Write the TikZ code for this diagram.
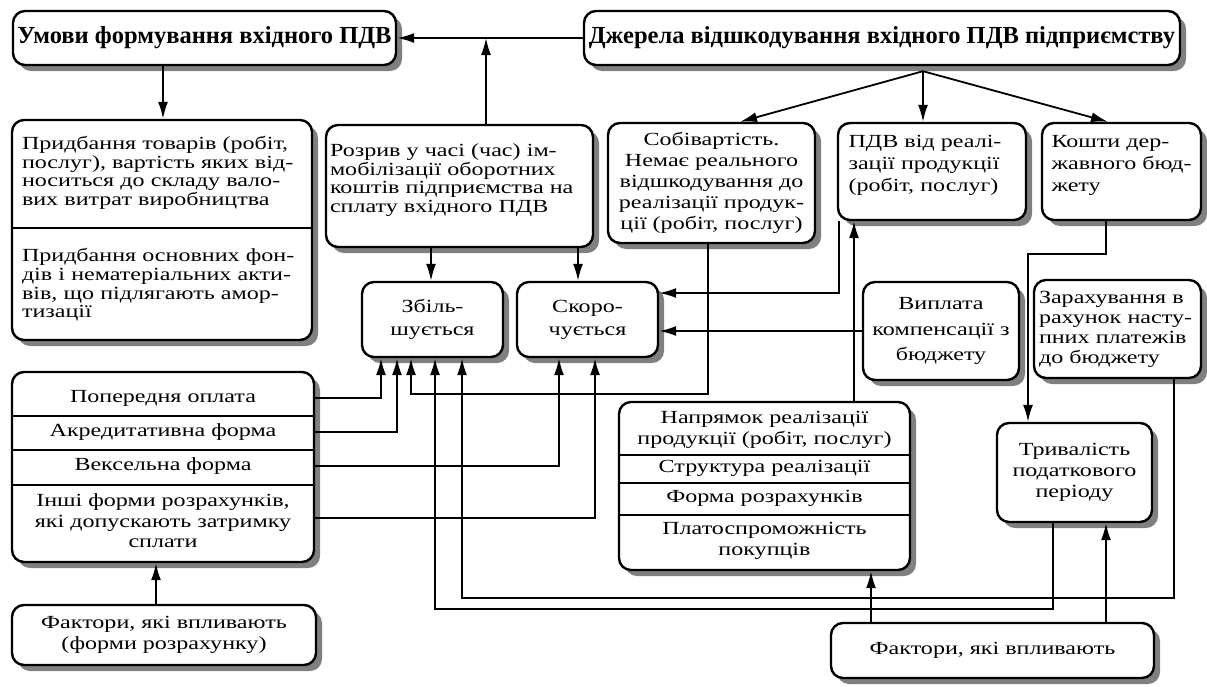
\documentclass[tikz,border=0pt]{standalone}
\usepackage{fontspec}
\setmainfont{Liberation Serif}
\newfontfamily\widefont{Liberation Serif}[FakeStretch=1.3]
\usetikzlibrary{arrows.meta,shadows}
\setlength\parindent{0pt}
\newcommand{\jline}[1]{\makebox[\linewidth][s]{#1}}

\tikzset{
  box/.style={draw, line width=2.4pt, rounded corners=12pt, fill=white,
    drop shadow={shadow xshift=6pt,shadow yshift=-6pt,fill=black!50,opacity=1},
    align=center, inner sep=2pt},
  title/.style={box, font=\fontsize{24.5}{24}\selectfont\bfseries},
  part/.style={align=center, inner sep=0pt},
  tight/.style={font=\widefont\fontsize{18.5}{18.6}\selectfont},
  arr/.style={line width=1.8pt, -{Latex[length=17pt,width=10pt]}},
  ln/.style={line width=1.8pt}
}

\begin{document}
\begin{tikzpicture}[x=1pt,y=-1pt,font=\widefont\fontsize{18.5}{21}\selectfont]
\useasboundingbox (0,0) rectangle (1207,686);

% Top row
\node[title, minimum width=383pt, minimum height=54pt] (umovy) at (204.5,38) {Умови формування вхідного ПДВ};
\node[title, minimum width=596pt, minimum height=54pt] (dzh) at (882,38) {Джерела відшкодування вхідного ПДВ підприємству};

% Second row
\node[box, minimum width=300pt, minimum height=220pt] (prydb) at (162,230) {};
\node[part, tight, text width=278pt, align=left] (prydb1) at (161,173)
  {\jline{Придбання товарів (робіт,}\\ \jline{послуг), вартість яких від-}\\
   \jline{носиться до складу вало-}\\ вих витрат виробництва};
\node[part, tight, text width=278pt, align=left] (prydb2) at (161,285)
  {\jline{Придбання основних фон-}\\ \jline{дів і нематеріальних акти-}\\
   \jline{вів, що підлягають амор-}\\ тизації};
\draw[ln] (prydb.west |- 0,228) -- (prydb.east |- 0,228);

\node[box, minimum width=267pt, minimum height=122pt] (rozryv) at (459.5,186) {};
\node[part, tight, text width=259pt, align=left] (rozryv1) at (459.5,180)
  {\jline{Розрив у часі (час) ім-}\\ \jline{мобілізації оборотних}\\
   \jline{коштів підприємства на}\\ сплату вхідного ПДВ};
\node[box, minimum width=207pt, minimum height=120pt] (sobiv) at (711.5,183)
  {Собівартість.\\ Немає реального\\ відшкодування до\\ реалізації продук-\\ ції (робіт, послуг)};
\node[box, minimum width=188pt, minimum height=97pt] (pdv) at (932,171.5) {};
\node[part, text width=155pt, align=left, font=\widefont\fontsize{18.5}{22}\selectfont] (pdv1) at (926,165)
  {\jline{ПДВ від реалі-}\\ \jline{зації продукції}\\ \jline{(робіт, послуг)}};
\node[box, minimum width=159pt, minimum height=97pt] (kosh) at (1121.5,171.5) {};
\node[part, text width=140pt, align=left, font=\widefont\fontsize{18.5}{22}\selectfont] (kosh1) at (1121.5,165)
  {\jline{Кошти дер-}\\ \jline{жавного бюд-}\\ жету};

% Middle row
\node[box, minimum width=141pt, minimum height=75pt, font=\widefont\fontsize{18.5}{23}\selectfont] (zbil) at (432.5,319.5) {Збіль-\\ шується};
\node[box, minimum width=141pt, minimum height=75pt, font=\widefont\fontsize{18.5}{23}\selectfont] (skoro) at (587.5,319.5) {Скоро-\\ чується};
\node[box, minimum width=156pt, minimum height=98pt, font=\widefont\fontsize{18.5}{25.5}\selectfont] (vypl) at (941,331) {Виплата\\ компенсації з\\ бюджету};
\node[box, minimum width=167pt, minimum height=98pt, text width=157pt, align=left,
  font=\widefont\fontsize{18.5}{20}\selectfont] (zarakh) at (1117.5,329)
  {\jline{Зарахування в}\\ \jline{рахунок насту-}\\ \jline{пних платежів}\\ до бюджету};

% Forms of settlement
\node[box, minimum width=302pt, minimum height=190pt] (grp) at (163,467) {};
\node[part] (pop) at (163,398) {Попередня оплата};
\node[part] (akr) at (163,432) {Акредитативна форма};
\node[part] (veks) at (163,466) {Вексельна форма};
\node[part, font=\widefont\fontsize{18.5}{20.5}\selectfont] (insh) at (163,521) {Інші форми розрахунків,\\ які допускають затримку\\ сплати};
\draw[ln] (grp.west |- 0,416) -- (grp.east |- 0,416);
\draw[ln] (grp.west |- 0,450) -- (grp.east |- 0,450);
\draw[ln] (grp.west |- 0,485) -- (grp.east |- 0,485);

% Sales factors
\node[box, minimum width=291pt, minimum height=168pt] (napr) at (764.5,486) {};
\node[part] (napr1) at (764.5,430) {Напрямок реалізації\\ продукції (робіт, послуг)};
\node[part] (napr2) at (764.5,468) {Структура реалізації};
\node[part] (napr3) at (764.5,498) {Форма розрахунків};
\node[part] (napr4) at (764.5,541) {Платоспроможність\\ покупців};
\draw[ln] (napr.west |- 0,455) -- (napr.east |- 0,455);
\draw[ln] (napr.west |- 0,483) -- (napr.east |- 0,483);
\draw[ln] (napr.west |- 0,515) -- (napr.east |- 0,515);

\node[box, minimum width=155pt, minimum height=99pt] (tryv) at (1074.5,472.5) {Тривалість\\ податкового\\ періоду};

% Bottom row
\node[box, minimum width=304pt, minimum height=60pt] (faktL) at (164,635) {Фактори, які впливають\\ (форми розрахунку)};
\node[box, minimum width=323pt, minimum height=55pt] (faktR) at (992.5,650.5) {Фактори, які впливають};

% Connectors at the top
\draw[arr] (dzh.west) -- (umovy.east);
\draw[arr] ([xshift=26.5pt]rozryv.north) -- ([xshift=26.5pt]rozryv.north |- umovy.east);
\draw[arr] ([xshift=-41.5pt]umovy.south) -- ([xshift=-41.5pt]umovy.south |- prydb.north);
\coordinate (fan) at ([xshift=41pt,yshift=-5pt]dzh.south);
\draw[arr] (fan) -- ([xshift=28.5pt]sobiv.north);
\draw[arr] (fan) -- (fan |- pdv.north);
\draw[arr] (fan) -- ([xshift=-13.5pt]kosh.north);

% Into Zbil / Skoro
\draw[arr] ([xshift=-28.5pt]rozryv.south) -- ([xshift=-28.5pt]rozryv.south |- zbil.north);
\draw[arr] ([xshift=118.5pt]rozryv.south) -- ([xshift=118.5pt]rozryv.south |- skoro.north);
\draw[arr] ([xshift=-3.5pt]sobiv.south) -- ++(0,150) -| ([xshift=-21.5pt]zbil.south);
\draw[arr] ([xshift=2pt]pdv.south west) |- ([yshift=26.5pt]skoro.east);
\draw[arr] (vypl.west) -- (vypl.west -| skoro.east);
\draw[arr] (grp.east |- pop) -| ([xshift=-51.5pt]zbil.south);
\draw[arr] (grp.east |- akr) -| ([xshift=-35.5pt]zbil.south);
\draw[arr] (grp.east |- veks) -| ([xshift=-28.5pt]skoro.south);
\draw[arr] ([yshift=3pt]grp.east |- insh) -| ([xshift=7.5pt]skoro.south);
\draw[arr] ([xshift=56.5pt]zarakh.south) -- ++(0,219) -| ([xshift=29.5pt]zbil.south);
\draw[arr] ([xshift=-21.5pt]tryv.south) -- ++(0,86) -| ([xshift=2.5pt]zbil.south);

% Right side
\draw[arr] ([xshift=89.5pt]napr.north) -- ([xshift=89.5pt]napr.north |- pdv.south);
\draw[arr] ([xshift=-15.5pt]kosh.south) -- ++(0,33) -| ([xshift=-46.5pt]tryv.north);
\draw[arr] ([xshift=-121.5pt]faktR.north) -- ([xshift=-121.5pt]faktR.north |- napr.south);
\draw[arr] ([xshift=113.5pt]faktR.north) -- ([xshift=113.5pt]faktR.north |- tryv.south);
\draw[arr] ([xshift=-8pt]faktL.north) -- ([xshift=-8pt]faktL.north |- grp.south);
\end{tikzpicture}
\end{document}
